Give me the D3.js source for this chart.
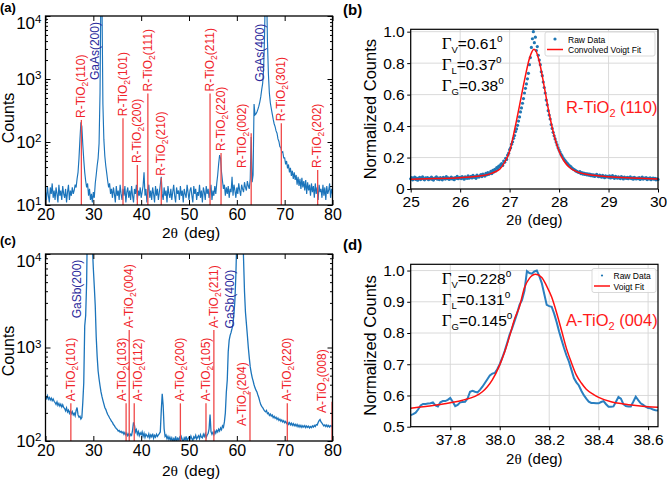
<!DOCTYPE html>
<html>
<head>
<meta charset="utf-8">
<title>XRD of TiO2 films</title>
<script src="https://d3js.org/d3.v7.min.js"></script>
<style>
  body { margin: 0; background: #fff; }
  svg { font-family: "Liberation Sans", Arial, sans-serif; }
  .axis .domain { display: none; }
  .axis line { stroke: #000; stroke-width: 1; }
  .axis text { fill: #000; }
</style>
</head>
<body>
<svg id="chart" width="667" height="479"></svg>
<script>
// ---------- data ----------
// (a) XRD counts, 20..80 deg, step 0.2
var countsA = [
  16, 12, 20, 14, 11, 19, 15, 22, 13, 17,
  12, 19, 15, 11, 21, 14, 17, 12, 20, 15,
  13, 18, 11, 16, 21, 12, 17, 14, 19, 15,
  17, 21, 19, 26, 33, 55, 110, 205, 175, 90,
  52, 33, 24, 19, 22, 14, 18, 12, 15, 11,
  16, 13, 22, 30, 42, 55, 95, 600, 40000, 20000,
  400, 110, 60, 42, 32, 24, 19, 22, 15, 18,
  13, 19, 15, 11, 20, 14, 17, 12, 21, 15,
  12, 18, 14, 20, 11, 16, 19, 13, 17, 12,
  20, 14, 11, 18, 15, 21, 12, 17, 14, 19,
  13, 16, 20, 33, 14, 18, 11, 17, 21, 13,
  17, 12, 19, 15, 11, 20, 14, 18, 12, 16,
  21, 28, 15, 12, 19, 14, 17, 11, 20, 15,
  13, 18, 12, 16, 21, 14, 11, 19, 15, 17,
  12, 20, 14, 17, 11, 18, 15, 13, 21, 16,
  12, 17, 19, 14, 11, 20, 15, 18, 12, 16,
  14, 21, 13, 17, 11, 19, 16, 12, 20, 15,
  18, 13, 16, 21, 12, 17, 14, 20, 15, 22,
  30, 45, 62, 55, 33, 24, 18, 21, 14, 19,
  15, 20, 13, 18, 16, 28, 14, 21, 17, 13,
  19, 15, 22, 17, 14, 21, 18, 16, 23, 19,
  17, 24, 20, 18, 26, 120, 23, 30, 400, 270,
  280, 300, 330, 370, 430, 520, 680, 850, 1400, 5000,
  40000, 30000, 4000, 1200, 600, 420, 340, 280, 230, 195,
  175, 150, 138, 112, 102, 84, 82, 68, 70, 56,
  56, 44, 50, 38, 44, 33, 39, 29, 35, 26,
  33, 25, 30, 21, 28, 20, 26, 18, 27, 19,
  24, 17, 25, 15, 23, 17, 21, 14, 22, 16,
  20, 13, 22, 15, 19, 12, 21, 16, 18, 13,
  21, 14, 19, 12, 20, 15, 17, 22, 13, 18,
  15
];
// (c) XRD counts, 20..80 deg, step 0.2
var countsC = [
  300, 285, 305, 280, 292, 275, 288, 270, 282, 266,
  258, 246, 262, 240, 252, 236, 248, 231, 244, 228,
  222, 210, 226, 205, 214, 198, 210, 196, 206, 190,
  198, 186, 212, 228, 190, 180, 184, 172, 178, 260,
  420, 1700, 2200, 5000, 30000, 60000, 80000, 50000, 25000, 12000,
  7000, 4500, 2800, 1300, 800, 560, 460, 390, 335, 300,
  272, 250, 228, 218, 204, 192, 185, 176, 170, 162,
  158, 150, 146, 140, 136, 133, 128, 130, 124, 127,
  122, 125, 118, 123, 116, 121, 114, 119, 112, 118,
  115, 130, 158, 148, 125, 132, 118, 126, 114, 122,
  117, 125, 112, 121, 109, 118, 114, 110, 119, 108,
  116, 111, 120, 107, 115, 110, 118, 112, 116, 120,
  125, 210, 320, 240, 135, 112, 116, 106, 112, 104,
  110, 102, 108, 99, 106, 101, 112, 98, 107, 103,
  109, 100, 111, 104, 98, 108, 103, 112, 100, 106,
  110, 104, 113, 106, 101, 111, 107, 115, 105, 110,
  114, 106, 117, 110, 108, 118, 112, 120, 109, 116,
  120, 135, 192, 126, 118, 124, 117, 128, 121, 130,
  125, 134, 128, 138, 132, 145, 140, 160, 200, 330,
  450, 900, 1200, 1350, 1450, 1600, 1800, 2300, 3200, 6000,
  15000, 40000, 80000, 80000, 60000, 40000, 20000, 9000, 4000, 2400,
  1800, 1350, 1000, 780, 620, 540, 480, 440, 400, 370,
  350, 335, 310, 290, 265, 245, 235, 228, 218, 210,
  205, 212, 196, 200, 188, 194, 185, 190, 178, 184,
  175, 180, 170, 176, 166, 171, 163, 168, 160, 165,
  157, 162, 154, 160, 151, 157, 149, 155, 147, 153,
  146, 151, 144, 150, 142, 148, 141, 147, 140, 146,
  141, 146, 139, 145, 140, 144, 138, 143, 139, 145,
  141, 147, 143, 150, 148, 158, 165, 170, 160, 155,
  150, 145, 149, 143, 148, 142, 147, 141, 146, 143,
  148
];
var scanStart = 20, scanStep = 0.2;

// reference peaks
var rutileHKL = ['(110)', '(101)', '(200)', '(111)', '(210)', '(211)', '(220)', '(002)', '(301)', '(202)'];
var rutilePos = [27.5, 36.2, 39.2, 41.4, 44.2, 54.4, 56.7, 63.0, 69.3, 76.9];
var rutileTop = [224, 238, 43, 590, 27, 590, 67, 138, 198, 36];
var anataseHKL = ['(101)', '(103)', '(004)', '(112)', '(200)', '(105)', '(211)', '(204)', '(220)', '(008)'];
var anatasePos = [25.3, 36.85, 37.5, 38.55, 48.2, 53.55, 55.2, 62.75, 70.55, 79.9];
var anataseTop = [253, 253, 1540, 253, 253, 253, 1540, 334, 253, 263];
var substrateA = ['GaAs(200)', 'GaAs(400)'];
var substrateC = ['GaSb(200)', 'GaSb(400)'];

// (b) normalized counts 25..30 deg, step 0.02
var rawB = [
  .065, .072, .058, .068, .075, .061, .070, .056, .066, .074,
  .060, .069, .077, .063, .058, .071, .066, .073, .059, .068,
  .064, .075, .061, .057, .070, .067, .078, .062, .069, .060,
  .072, .065, .058, .074, .068, .063, .079, .066, .071, .061,
  .067, .076, .064, .070, .059, .073, .068, .080, .065, .071,
  .074, .066, .079, .070, .062, .077, .072, .068, .083, .069,
  .075, .081, .070, .086, .074, .079, .068, .088, .080, .076,
  .084, .092, .079, .095, .087, .082, .099, .090, .104, .093,
  .100, .112, .098, .118, .108, .125, .115, .136, .128, .145,
  .140, .155, .162, .150, .178, .170, .195, .188, .215, .228,
  .250, .262, .285, .300, .322, .340, .365, .382, .405, .432,
  .458, .490, .515, .545, .575, .610, .640, .668, .700, .735,
  .790, .835, .900, .955, 1.00, .930, .965, .880, .905, .850,
  .820, .790, .745, .720, .680, .645, .610, .565, .535, .498,
  .470, .445, .410, .385, .360, .338, .318, .298, .280, .262,
  .248, .235, .220, .210, .198, .188, .180, .172, .165, .158,
  .150, .145, .140, .133, .128, .124, .120, .115, .112, .108,
  .105, .110, .098, .104, .095, .101, .092, .098, .090, .096,
  .088, .094, .085, .092, .083, .090, .080, .087, .093, .082,
  .078, .088, .082, .075, .086, .079, .072, .084, .077, .081,
  .074, .083, .070, .078, .085, .072, .068, .080, .076, .069,
  .077, .071, .066, .079, .073, .064, .075, .070, .068, .074,
  .065, .072, .077, .066, .071, .062, .074, .069, .064, .070,
  .066, .073, .061, .068, .075, .063, .070, .066, .072, .060,
  .067, .064, .071, .059, .066, .070, .062, .068, .058, .064,
  .061
];
var rawBStart = 25, rawBStep = 0.02;
var fitBTheta = [25.0, 25.5, 26.0, 26.2, 26.4, 26.5, 26.6, 26.7, 26.8, 26.9, 27.0, 27.1, 27.2, 27.3, 27.4, 27.45, 27.49,
  27.53, 27.6, 27.7, 27.8, 27.9, 28.0, 28.1, 28.2, 28.3, 28.4, 28.5, 28.7, 29.0, 29.5, 30.0];
var fitBValue = [.062, .066, .072, .076, .083, .088, .096, .108, .126, .170, .240, .375, .530, .690, .830, .872, .888,
  .878, .810, .650, .480, .340, .240, .178, .140, .118, .105, .097, .087, .078, .070, .064];

// (d) normalized counts 37.64..38.64 deg, step 0.01
var rawD = [
  .537, .540, .545, .555, .568, .573, .573, .574, .575, .578,
  .568, .565, .578, .582, .582, .586, .592, .580, .566, .570,
  .578, .579, .580, .590, .612, .615, .612, .610, .618, .628,
  .640, .652, .664, .670, .672, .684, .700, .720, .742, .768,
  .795, .815, .838, .862, .890, .905, .935, .998, .992, .990,
  .997, 1.00, .982, .960, .925, .890, .886, .884, .862, .835,
  .805, .778, .752, .728, .708, .682, .656, .642, .632, .615,
  .601, .590, .580, .576, .576, .575, .575, .579, .582, .572,
  .564, .564, .565, .580, .595, .590, .572, .566, .565, .565,
  .580, .596, .585, .575, .570, .564, .560, .559, .555, .553,
  .552
];
var rawDStart = 37.64, rawDStep = 0.01;
var fitDTheta = [37.64, 37.70, 37.75, 37.80, 37.85, 37.90, 37.93, 37.95, 37.97, 38.00, 38.02, 38.04, 38.06, 38.08, 38.10,
  38.12, 38.145, 38.17, 38.19, 38.21, 38.23, 38.25, 38.27, 38.29, 38.31, 38.33, 38.35, 38.38, 38.40, 38.45, 38.50,
  38.55, 38.60, 38.64];
var fitDValue = [.559, .565, .570, .577, .585, .597, .612, .628, .650, .698, .740, .790, .845, .885, .945,
  .975, .988, .978, .950, .915, .865, .808, .750, .705, .665, .640, .620, .603, .594, .580, .573,
  .568, .564, .562];

// ---------- drawing ----------
var BLUE = '#1b74bb', RED_LINE = '#f04848', RED_TXT = '#f0232a', NAVY = '#2a2a9c';
var svg = d3.select('#chart');

function supTen(sel) {
  sel.each(function (d) {
    var t = d3.select(this);
    t.text('10');
    t.append('tspan').attr('dy', '-0.5em').attr('font-size', '0.68em').text(Math.round(Math.log10(d)));
  });
}

function vLabel(g, x, yb, prefix, hkl, color) {
  var t = g.append('text')
    .attr('transform', 'translate(' + x + ',' + yb + ') rotate(-90)')
    .attr('dy', '0.36em').attr('font-size', 12).attr('fill', color);
  if (hkl === null) { t.text(prefix); return; }
  t.append('tspan').text(prefix);
  t.append('tspan').attr('dy', 3).attr('font-size', 8.5).text('2');
  t.append('tspan').attr('dy', -3).text(hkl);
}

function xrdPanel(p) {
  var x = p.x, y = p.y;
  var left = x.range()[0], right = x.range()[1], bottom = y.range()[0], top = y.range()[1];
  var g = svg.append('g');
  g.append('clipPath').attr('id', 'clip' + p.key).append('rect')
    .attr('x', left).attr('y', top).attr('width', right - left).attr('height', bottom - top);

  var pts = p.counts.map(function (c, i) { return [scanStart + i * scanStep, c]; });
  g.append('path').datum(pts)
    .attr('clip-path', 'url(#clip' + p.key + ')')
    .attr('fill', 'none').attr('stroke', BLUE).attr('stroke-width', p.lineW)
    .attr('d', d3.line().x(function (d) { return x(d[0]); }).y(function (d) { return y(d[1]); }));

  // reference peak lines
  g.selectAll('line.ref').data(p.pos).join('line')
    .attr('x1', function (d) { return x(d); }).attr('x2', function (d) { return x(d); })
    .attr('y1', bottom).attr('y2', function (d, i) { return y(p.top[i]); })
    .attr('stroke', RED_LINE).attr('stroke-width', 1.3);

  p.hkl.forEach(function (h, i) {
    var o = p.shift[h] || {};
    var lx = x(o.at !== undefined ? o.at : p.pos[i]) - 0.5;
    var lb = (o.base !== undefined ? y(o.base) : y(p.top[i])) - 2;
    vLabel(g, lx, lb, p.phase, h, RED_TXT);
  });
  p.sub.forEach(function (s) { vLabel(g, x(s.at), y(s.base), s.name, null, NAVY); });

  // axes (ticks inside, mirrored)
  var decades = p.decades, minors = [];
  decades.slice(0, -1).forEach(function (d) { for (var m = 2; m < 10; m++) minors.push(d * m); });
  var xt = [20, 30, 40, 50, 60, 70, 80];

  var ax = g.append('g').attr('class', 'axis').attr('transform', 'translate(0,' + bottom + ')')
    .call(d3.axisBottom(x).tickValues(xt).tickSizeInner(-5).tickSizeOuter(0).tickPadding(4).tickFormat(d3.format('d')));
  ax.selectAll('text').attr('font-size', 16);
  g.append('g').attr('class', 'axis').attr('transform', 'translate(0,' + top + ')')
    .call(d3.axisTop(x).tickValues(xt).tickSizeInner(-5).tickSizeOuter(0).tickFormat(''));

  var ay = g.append('g').attr('class', 'axis').attr('transform', 'translate(' + left + ',0)')
    .call(d3.axisLeft(y).tickValues(decades).tickSizeInner(-5).tickSizeOuter(0).tickPadding(4));
  ay.selectAll('text').attr('font-size', 17).call(supTen);
  ay.selectAll('.tick').filter(function (d) { return d === decades[decades.length - 1]; })
    .select('text').attr('dy', '0.75em');
  g.append('g').attr('class', 'axis').attr('transform', 'translate(' + left + ',0)')
    .call(d3.axisLeft(y).tickValues(minors).tickSizeInner(-2.5).tickSizeOuter(0).tickFormat(''));
  g.append('g').attr('class', 'axis').attr('transform', 'translate(' + right + ',0)')
    .call(d3.axisRight(y).tickValues(decades).tickSizeInner(-5).tickSizeOuter(0).tickFormat(''));
  g.append('g').attr('class', 'axis').attr('transform', 'translate(' + right + ',0)')
    .call(d3.axisRight(y).tickValues(minors).tickSizeInner(-2.5).tickSizeOuter(0).tickFormat(''));

  g.append('rect').attr('x', left).attr('y', top).attr('width', right - left).attr('height', bottom - top)
    .attr('fill', 'none').attr('stroke', '#000').attr('stroke-width', 1.3);

  // titles
  var xtT = g.append('text').attr('x', (left + right) / 2 + 2).attr('y', p.xTitleY)
    .attr('text-anchor', 'middle').attr('font-size', 15.5);
  xtT.append('tspan').text('2');
  xtT.append('tspan').attr('font-family', '"Liberation Serif", serif').text('\u03b8');
  xtT.append('tspan').attr('dx', 6).text('(deg)');
  g.append('text').attr('transform', 'translate(14,' + p.yTitleY + ') rotate(-90)')
    .attr('text-anchor', 'middle').attr('font-size', 16).text('Counts');
  g.append('text').attr('x', 0).attr('y', p.tagY).attr('font-size', 13).attr('font-weight', 'bold').text(p.tag);
}

function gammaLine(g, x, yb, sub, val) {
  var t = g.append('text').attr('x', x).attr('y', yb).attr('font-size', 15.5).attr('fill', '#000');
  t.append('tspan').attr('font-family', '"Liberation Serif", serif').attr('font-size', 17).text('\u0393');
  t.append('tspan').attr('font-size', 9.5).attr('dy', 4).text(sub);
  t.append('tspan').attr('dy', -4).text('=' + val);
  t.append('tspan').attr('font-size', 10).attr('dy', -7).text('o');
}

function fitPanel(p) {
  var x = p.x, y = p.y;
  var left = x.range()[0], right = x.range()[1], bottom = y.range()[0], top = y.range()[1];
  var g = svg.append('g');

  // grid
  g.selectAll('line.gx').data(p.xTicks).join('line')
    .attr('x1', function (d) { return x(d); }).attr('x2', function (d) { return x(d); })
    .attr('y1', top).attr('y2', bottom).attr('stroke', '#d6d6d6').attr('stroke-width', 0.9);
  g.selectAll('line.gy').data(p.yTicks).join('line')
    .attr('y1', function (d) { return y(d); }).attr('y2', function (d) { return y(d); })
    .attr('x1', left).attr('x2', right).attr('stroke', '#d6d6d6').attr('stroke-width', 0.9);

  p.drawRaw(g);
  g.append('path').datum(p.fitTheta.map(function (t, i) { return [t, p.fitValue[i]]; }))
    .attr('fill', 'none').attr('stroke', '#ff1010').attr('stroke-width', 1.5)
    .attr('d', d3.line().curve(d3.curveMonotoneX).x(function (d) { return x(d[0]); }).y(function (d) { return y(d[1]); }));

  var ax = g.append('g').attr('class', 'axis').attr('transform', 'translate(0,' + bottom + ')')
    .call(d3.axisBottom(x).tickValues(p.xTicks).tickSize(3.5).tickPadding(3.5).tickFormat(p.xFmt));
  ax.selectAll('text').attr('font-size', 15.5);
  var ay = g.append('g').attr('class', 'axis').attr('transform', 'translate(' + left + ',0)')
    .call(d3.axisLeft(y).tickValues(p.yTicks).tickSize(3.5).tickPadding(2.5).tickFormat(p.yFmt));
  ay.selectAll('text').attr('font-size', 15.5);

  g.append('rect').attr('x', left).attr('y', top).attr('width', right - left).attr('height', bottom - top)
    .attr('fill', 'none').attr('stroke', '#000').attr('stroke-width', 1.2);

  var xtT = g.append('text').attr('x', (left + right) / 2).attr('y', p.xTitleY)
    .attr('text-anchor', 'middle').attr('font-size', 15);
  xtT.append('tspan').text('2');
  xtT.append('tspan').attr('font-family', '"Liberation Serif", serif').text('\u03b8');
  xtT.append('tspan').attr('dx', 6).text('(deg)');
  g.append('text').attr('transform', 'translate(376,' + ((top + bottom) / 2) + ') rotate(-90)')
    .attr('text-anchor', 'middle').attr('font-size', 16.5).text('Normalized Counts');
  g.append('text').attr('x', 343).attr('y', p.tagY).attr('font-size', 15).attr('font-weight', 'bold').text(p.tag);

  // annotations
  p.gammas.forEach(function (gm, i) { gammaLine(g, left + 31, top + 20 + i * 21, gm[0], gm[1]); });
  var pt = g.append('text').attr('x', 566).attr('y', p.phaseY).attr('font-size', 16.5).attr('fill', '#ff1a1a');
  pt.append('tspan').text(p.phase[0]);
  pt.append('tspan').attr('dy', 4).attr('font-size', 11).text('2');
  pt.append('tspan').attr('dy', -4).text(p.phase[1]);

  // legend
  var L = p.legend;
  g.append('rect').attr('x', L.x).attr('y', L.y).attr('width', L.w).attr('height', 24)
    .attr('rx', 2).attr('fill', '#fff').attr('fill-opacity', 0.85).attr('stroke', '#cfcfcf').attr('stroke-width', 0.8);
  g.append('circle').attr('cx', L.x + L.mark).attr('cy', L.y + 7).attr('r', p.dotR).attr('fill', '#1f77b4');
  g.append('line').attr('x1', L.x + L.mark - 8).attr('x2', L.x + L.mark + 8)
    .attr('y1', L.y + 17.5).attr('y2', L.y + 17.5).attr('stroke', '#ff1010').attr('stroke-width', 1.5);
  g.append('text').attr('x', L.x + L.text).attr('y', L.y + 10.5).attr('font-size', 8.5).text('Raw Data');
  g.append('text').attr('x', L.x + L.text).attr('y', L.y + 21).attr('font-size', 8.5).text(L.fit);
}

// ---- panel (a)
var xA = d3.scaleLinear().domain([20, 80]).range([45.5, 332.5]);
var yA = d3.scaleLog().domain([10, 1e4]).range([205, 16]);
xrdPanel({
  key: 'a', tag: '(a)', tagY: 12, x: xA, y: yA, counts: countsA, lineW: 1.15,
  decades: [10, 100, 1000, 10000],
  hkl: rutileHKL, pos: rutilePos, top: rutileTop, phase: 'R-TiO',
  shift: { '(002)': { at: 61.05, base: 36 } },
  sub: [{ name: substrateA[0], at: 30.2, base: 960 }, { name: substrateA[1], at: 64.85, base: 906 }],
  xTitleY: 238, yTitleY: 118
});

// ---- panel (c)
var xC = d3.scaleLinear().domain([20, 80]).range([45.5, 332.5]);
var yC = d3.scaleLog().domain([100, 1e4]).range([441, 254]);
xrdPanel({
  key: 'c', tag: '(c)', tagY: 245, x: xC, y: yC, counts: countsC, lineW: 1.3,
  decades: [100, 1000, 10000],
  hkl: anataseHKL, pos: anatasePos, top: anataseTop, phase: 'A-TiO',
  shift: { '(103)': { at: 35.95 }, '(112)': { at: 39.4 }, '(204)': { at: 61.1, base: 138 }, '(008)': { at: 77.75, base: 190 } },
  sub: [{ name: substrateC[0], at: 26.5, base: 2050 }, { name: substrateC[1], at: 58.55, base: 1600 }],
  xTitleY: 476, yTitleY: 351
});

// ---- panel (b)
var xB = d3.scaleLinear().domain([25, 30]).range([410.7, 658]);
var yB = d3.scaleLinear().domain([0, 1.015]).range([189, 29.3]);
fitPanel({
  tag: '(b)', tagY: 15, x: xB, y: yB,
  xTicks: [25, 26, 27, 28, 29, 30], yTicks: [0, 0.2, 0.4, 0.6, 0.8, 1.0],
  xFmt: d3.format('d'), yFmt: function (d) { return d === 0 ? '0' : d3.format('.1f')(d); },
  fitTheta: fitBTheta, fitValue: fitBValue,
  drawRaw: function (g) {
    g.selectAll('circle.raw').data(rawB).join('circle')
      .attr('cx', function (d, i) { return xB(rawBStart + i * rawBStep); })
      .attr('cy', function (d) { return yB(d); })
      .attr('r', 1.6).attr('fill', '#1f77b4');
  },
  gammas: [['V', '0.61'], ['L', '0.37'], ['G', '0.38']],
  phase: ['R-TiO', ' (110)'], phaseY: 113,
  legend: { x: 545, y: 32, w: 110, mark: 10, text: 23, fit: 'Convolved Voigt Fit' },
  dotR: 1.6, xTitleY: 225
});

// ---- panel (d)
var xD = d3.scaleLinear().domain([37.64, 38.64]).range([410.7, 658]);
var yD = d3.scaleLinear().domain([0.5, 1.02]).range([426.7, 264.3]);
fitPanel({
  tag: '(d)', tagY: 250, x: xD, y: yD,
  xTicks: [37.8, 38.0, 38.2, 38.4, 38.6], yTicks: [0.5, 0.6, 0.7, 0.8, 0.9, 1.0],
  xFmt: d3.format('.1f'), yFmt: d3.format('.1f'),
  fitTheta: fitDTheta, fitValue: fitDValue,
  drawRaw: function (g) {
    g.append('path').datum(rawD)
      .attr('fill', 'none').attr('stroke', '#2a7fc0').attr('stroke-width', 2)
      .attr('d', d3.line().x(function (d, i) { return xD(rawDStart + i * rawDStep); }).y(function (d) { return yD(d); }));
  },
  gammas: [['V', '0.228'], ['L', '0.131'], ['G', '0.145']],
  phase: ['A-TiO', ' (004)'], phaseY: 326,
  legend: { x: 592, y: 268.5, w: 64, mark: 10, text: 21.5, fit: 'Voigt Fit' },
  dotR: 1.1, xTitleY: 464
});
</script>
</body>
</html>
